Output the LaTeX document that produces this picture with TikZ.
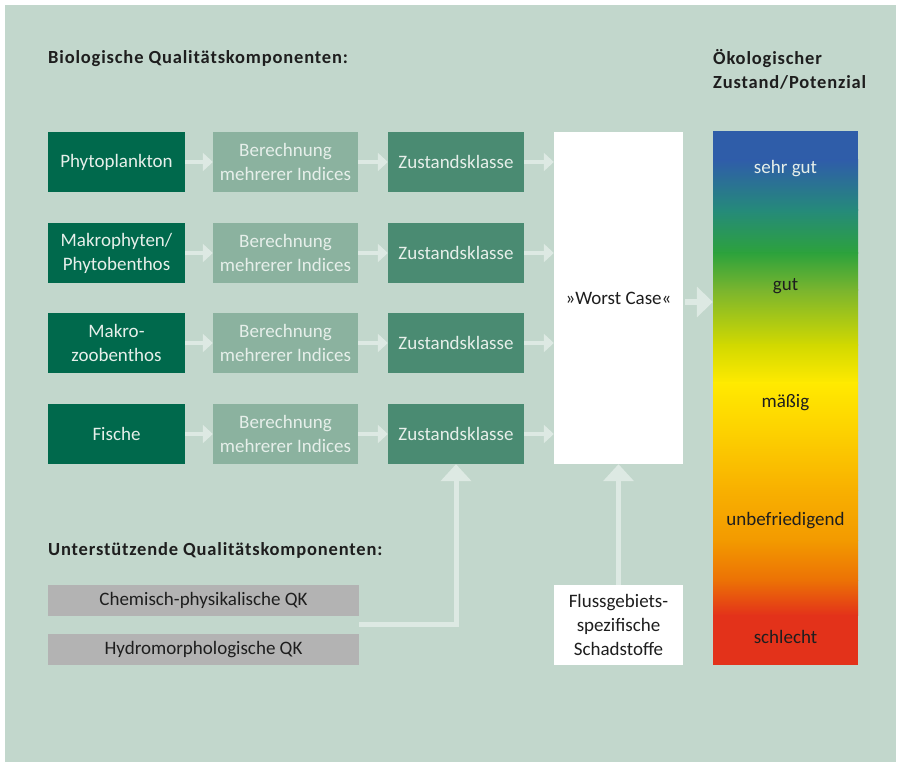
\documentclass[tikz,border=0pt]{standalone}
\usepackage{fontspec}
\setmainfont{Carlito}
\newfontfamily\ttlfont[LetterSpace=4.5]{Carlito}
\usetikzlibrary{arrows.meta}
\definecolor{bg}{HTML}{C2D7CC}
\definecolor{dkgreen}{HTML}{00694C}
\definecolor{ltgreen}{HTML}{8BB29F}
\definecolor{mdgreen}{HTML}{4A8B72}
\definecolor{arrowc}{HTML}{DDE9E3}
\definecolor{greybox}{HTML}{B3B3B3}
\definecolor{txtdark}{HTML}{1E1E1E}
\definecolor{txtlight}{HTML}{E6EFEA}
\definecolor{cB}{HTML}{2F5DA9}
\definecolor{cT}{HTML}{258A7A}
\definecolor{cG}{HTML}{2DA23C}
\definecolor{cGY}{HTML}{7AB52E}
\definecolor{cYG}{HTML}{D2D900}
\definecolor{cY}{HTML}{FFEA00}
\definecolor{cY2}{HTML}{FDD200}
\definecolor{cO1}{HTML}{F8B000}
\definecolor{cO2}{HTML}{F39A00}
\definecolor{cO3}{HTML}{EC7205}
\definecolor{cR}{HTML}{E3321A}
\tikzset{
  txt/.style={font=\fontsize{19}{24}\selectfont},
  ttl/.style={font=\ttlfont\bfseries\fontsize{18.5}{24}\selectfont, text=txtdark, inner sep=0pt},
  box/.style={txt, minimum height=60pt, inner sep=0pt, align=center},
  bio/.style={box, fill=dkgreen, minimum width=137pt, text=txtlight},
  calc/.style={box, fill=ltgreen, minimum width=145pt, text=txtlight},
  klasse/.style={box, fill=mdgreen, minimum width=136pt, text=txtlight},
  qk/.style={txt, fill=greybox, minimum width=311pt, minimum height=31pt, inner sep=0pt, text=txtdark},
  whitebox/.style={txt, fill=white, inner sep=0pt, align=center, text=txtdark},
  lvl/.style={txt, inner sep=0pt, text=txtdark},
  flow/.style={draw=arrowc, line width=4.5pt, -{Triangle[width=18pt,length=10pt]}},
  bigflow/.style={draw=arrowc, line width=6pt, -{Triangle[width=30pt,length=16pt]}},
  upflow/.style={draw=arrowc, line width=5pt, line join=miter, -{Triangle[width=30pt,length=17pt]}},
}
\begin{document}
\begin{tikzpicture}[x=1pt,y=-1pt]
\useasboundingbox (0,0) rectangle (898,762);
\fill[white] (0,0) rectangle (898,762);
\fill[bg] (5,5) rectangle (896,762);

% titles
\node[ttl, anchor=base west] (t1) at (48,64) {Biologische Qualitätskomponenten:};
\node[ttl, anchor=base west] (t2a) at (713,65) {Ökologischer};
\node[ttl, anchor=base west] (t2b) at (713,89) {Zustand/Potenzial};
\node[ttl, anchor=base west] (t3) at (48,555) {Unterstützende Qualitätskomponenten:};

% rows
\node[bio] (b1) at (116.5,162) {Phytoplankton};
\node[bio] (b2) at (116.5,253) {Makrophyten/\\Phytobenthos};
\node[bio] (b3) at (116.5,343) {Makro-\\zoobenthos};
\node[bio] (b4) at (116.5,434) {Fische};
\foreach \i/\y in {1/162,2/253,3/343,4/434}{
  \node[calc] (c\i) at (285.5,\y) {Berechnung\\mehrerer Indices};
  \node[klasse] (z\i) at (456,\y) {Zustandsklasse};
}

\node[whitebox, minimum width=129pt, minimum height=332pt] (worst) at (618.5,298) {»Worst Case«};

% colour bar
\node[minimum width=145pt, minimum height=534pt, inner sep=0pt] (bar) at (785.5,398) {};
\fill[cB] (713,131) rectangle (858,160.5);
\shade[top color=cB, bottom color=cT] (713,160) rectangle (858,210.5);
\shade[top color=cT, bottom color=cG] (713,210) rectangle (858,253.5);
\shade[top color=cG, bottom color=cGY] (713,253) rectangle (858,290.5);
\shade[top color=cGY, bottom color=cYG] (713,290) rectangle (858,345.5);
\shade[top color=cYG, bottom color=cY] (713,345) rectangle (858,383.5);
\shade[top color=cY, bottom color=cY2] (713,383) rectangle (858,430.5);
\shade[top color=cY2, bottom color=cO1] (713,430) rectangle (858,490.5);
\shade[top color=cO1, bottom color=cO2] (713,490) rectangle (858,540.5);
\shade[top color=cO2, bottom color=cO3] (713,540) rectangle (858,580.5);
\shade[top color=cO3, bottom color=cR] (713,580) rectangle (858,615.5);
\fill[cR] (713,615) rectangle (858,665);
\node[lvl, text=txtlight] (l1) at (785.5,169) {sehr gut};
\node[lvl] (l2) at (785.5,286) {gut};
\node[lvl] (l3) at (785.5,403) {mäßig};
\node[lvl] (l4) at (785.5,521) {unbefriedigend};
\node[lvl] (l5) at (785.5,637) {schlecht};

% supporting components
\node[qk] (q1) at (203.5,600.5) {Chemisch-physikalische QK};
\node[qk] (q2) at (203.5,649.5) {Hydromorphologische QK};
\coordinate (qj) at (359,624.5);
\node[whitebox, minimum width=129pt, minimum height=80pt] (fl) at (618.5,625) {Flussgebiets-\\spezifische\\Schadstoffe};

% arrows
\foreach \i in {1,2,3,4}{
  \draw[flow] (b\i.east) -- (c\i.west);
  \draw[flow] (c\i.east) -- (z\i.west);
  \draw[flow] (z\i.east) -- (z\i.east -| worst.west);
}
\draw[bigflow] ([xshift=2pt,yshift=-4pt]worst.east) -- ([yshift=-4pt]worst.east -| bar.west);
\draw[upflow] (qj) -| (z4.south);
\draw[upflow] (fl.north) -- (worst.south);
\end{tikzpicture}
\end{document}
